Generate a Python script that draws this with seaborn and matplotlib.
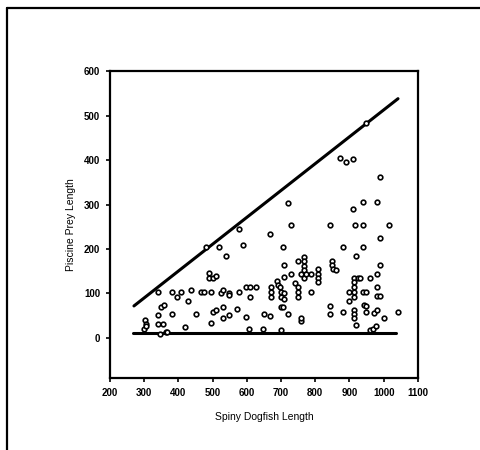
import matplotlib
matplotlib.use("Agg")
import matplotlib.pyplot as plt
from matplotlib.lines import Line2D
import seaborn as sns
import pandas as pd

# Data
dogfish_length = [
    300, 301, 304, 306, 339, 339, 339, 348, 358, 356, 346, 363, 368, 380, 380,
    397, 407, 429, 418, 437, 451, 466, 480, 490, 490, 500, 510, 475, 496, 496,
    500, 510, 518, 524, 529, 529, 529, 539, 547, 549, 549, 570, 576, 578, 588,
    597, 597, 609, 609, 607, 627, 646, 651, 668, 668, 671, 671, 671, 688, 691,
    700, 700, 698, 700, 700, 707, 710, 710, 710, 710, 705, 720, 720, 730, 730,
    740, 749, 749, 751, 751, 758, 758, 758, 768, 768, 768, 768, 768, 773, 787,
    789, 807, 807, 807, 807, 842, 842, 842, 849, 849, 852, 862, 871, 890, 910,
    881, 882, 900, 900, 910, 912, 912, 912, 912, 912, 912, 912, 912, 917, 920,
    920, 925, 930, 939, 939, 939, 941, 949, 944, 949, 949, 959, 959, 969, 978,
    973, 981, 981, 981, 981, 981, 988, 988, 988, 988, 1017, 1001, 1042, 949,
]
prey_length = [
    21, 40, 32, 26, 103, 51, 32, 70, 74, 32, 10, 14, 14, 104, 53,
    93, 103, 84, 25, 108, 53, 103, 205, 146, 134, 134, 140, 103, 103, 34,
    59, 63, 205, 100, 108, 70, 44, 185, 100, 51, 97, 65, 244, 103, 208,
    114, 48, 114, 93, 21, 115, 21, 53, 234, 49, 115, 103, 93, 127, 119,
    17, 70, 115, 104, 93, 205, 163, 137, 100, 88, 70, 304, 54, 254, 144,
    123, 114, 174, 93, 104, 144, 38, 44, 182, 172, 161, 152, 134, 144, 144,
    104, 155, 144, 134, 125, 253, 72, 53, 174, 165, 155, 152, 404, 395, 402,
    204, 59, 103, 83, 290, 134, 125, 114, 103, 91, 64, 54, 44, 254, 185,
    29, 134, 134, 306, 205, 254, 103, 103, 74, 72, 58, 134, 17, 21, 26,
    57, 64, 306, 144, 114, 94, 363, 225, 163, 94, 254, 44, 59, 483,
]

upper_x = [270, 1042]
upper_y = [72, 538]
lower_x = [268, 1035]
lower_y = [12, 12]

x_ticks = [200, 300, 400, 500, 600, 700, 800, 900, 1000, 1100]
y_ticks = [0, 100, 200, 300, 400, 500, 600]

sns.set_theme(style="white")
plt.rcParams['font.family'] = ['Liberation Sans', 'DejaVu Sans']

fig = plt.figure(figsize=(4.81, 4.5), dpi=100)
ax = fig.add_axes([0.2287, 0.16, 0.64, 0.682])

df = pd.DataFrame({"x": dogfish_length, "y": prey_length})
sns.scatterplot(data=df, x="x", y="y", ax=ax, marker="o", s=11,
                facecolor="white", edgecolor="black", linewidth=1.2, zorder=3)
sns.lineplot(x=upper_x, y=upper_y, ax=ax, color="black", linewidth=2.2, zorder=2)
sns.lineplot(x=lower_x, y=lower_y, ax=ax, color="black", linewidth=2.2, zorder=2)

ax.set_xlim(200, 1100)
ax.set_ylim(-90, 600)
ax.set_xticks(x_ticks)
ax.set_yticks(y_ticks)
ax.tick_params(axis="both", direction="out", length=3, width=1.2, labelsize=7,
               colors="black", bottom=True, left=True, pad=4)
for lbl in ax.get_xticklabels() + ax.get_yticklabels():
    lbl.set_fontweight("bold")
for sp in ax.spines.values():
    sp.set_color("black")
    sp.set_linewidth(1.6)
ax.set_xlabel("Spiny Dogfish Length", fontsize=7.5, color="black", labelpad=10)
ax.set_ylabel("Piscine Prey Length", fontsize=7.5, color="black", labelpad=6)

# scanned page border
fig.add_artist(Line2D([7 / 481, 7 / 481], [0, 1 - 8 / 450], transform=fig.transFigure,
                      color="black", linewidth=1.6))
fig.add_artist(Line2D([7 / 481, 1], [1 - 8 / 450, 1 - 8 / 450], transform=fig.transFigure,
                      color="black", linewidth=1.6))

fig.savefig("out.png", dpi=100)
